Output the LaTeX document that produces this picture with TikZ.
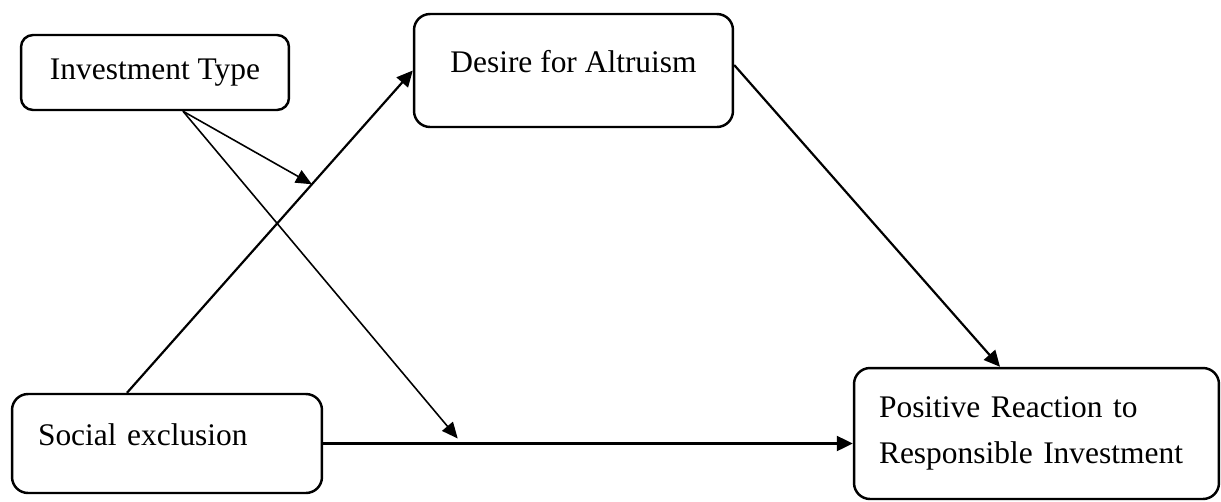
\documentclass[tikz,border=0pt]{standalone}
\usepackage{fontspec}
\setmainfont{Liberation Serif}
\usetikzlibrary{arrows.meta}

\begin{document}
\begin{tikzpicture}[x=0.02cm, y=-0.02cm,
    box/.style={draw, line width=1.4pt, rounded corners=0.32cm, inner sep=0pt,
        font=\fontsize{17.9}{26.2}\selectfont},
    link/.style={-{Triangle[length=0.32cm, width=0.3cm]}, line width=1.25pt},
    thinlink/.style={-{Triangle[length=0.32cm, width=0.28cm]}, line width=0.9pt}]
    \useasboundingbox (0,0) rectangle (1221,501);

    % Draw the boxes
    \node[box, rounded corners=0.24cm, minimum width=5.36cm, minimum height=1.5cm] (inv) at (155,72.5) {Investment Type};
    \node[box, minimum width=6.38cm, minimum height=2.26cm, text height=0.44cm, text depth=0.38cm] (alt) at (573.5,70.5) {Desire for Altruism};
    \node[box, text width=5.16cm, inner xsep=0.52cm, align=left, minimum height=1.98cm, text height=0.44cm, text depth=0.38cm] (soc) at (167,443.5) {Social exclusion};
    \node[box, text width=6.3cm, inner xsep=0.5cm, align=left, minimum height=2.62cm] (pos) at (1036.5,433.5) {Positive Reaction to\\Responsible Investment};

    % Draw the paths
    \draw[link] ([xshift=-0.8cm]soc.north) -- coordinate[pos=0.647] (m1) (alt.west);
    \draw[link] (soc.east) -- coordinate[pos=0.254] (m2) (soc.east -| pos.west);
    \draw[link] ([yshift=0.11cm]alt.east) -- ([xshift=-0.73cm]pos.north);

    % Investment type moderates both paths
    \draw[thinlink] ([xshift=0.56cm]inv.south) -- (m1);
    \draw[thinlink] ([xshift=0.56cm]inv.south) -- ([yshift=0.1cm]m2);
\end{tikzpicture}
\end{document}
